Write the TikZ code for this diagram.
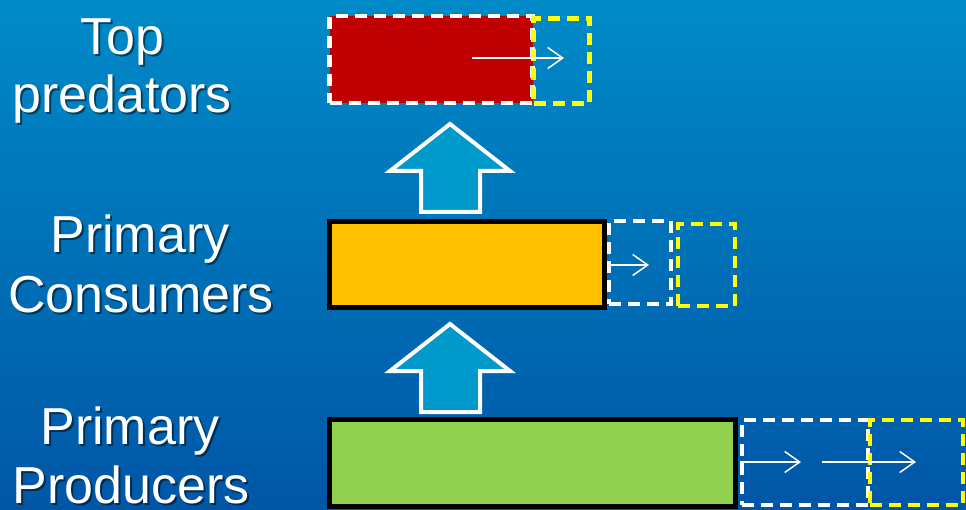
\documentclass[tikz,border=0pt]{standalone}
\usepackage{fontspec}
\setmainfont{Liberation Sans}
\usetikzlibrary{arrows.meta}
\definecolor{bgtop}{RGB}{0,138,200}
\definecolor{bgbot}{RGB}{0,86,166}
\definecolor{redbox}{RGB}{192,0,0}
\definecolor{orangebox}{RGB}{255,192,0}
\definecolor{greenbox}{RGB}{146,208,80}
\definecolor{uparr}{RGB}{0,153,204}
\definecolor{yel}{RGB}{255,255,0}
\tikzset{
  lbl/.style={text=white, font=\fontsize{52}{60}\selectfont, anchor=base, inner sep=0pt},
  shd/.style={text=black, opacity=0.5, font=\fontsize{52}{60}\selectfont, anchor=base, inner sep=0pt},
  solidbox/.style={draw=black, line width=5pt, inner sep=0pt},
  whitedash/.style={draw=white, line width=4.5pt, dash pattern=on 12pt off 7pt, inner sep=0pt},
  yeldash/.style={draw=yel, line width=4.5pt, dash pattern=on 12pt off 7pt, inner sep=0pt},
  flow/.style={draw=white, line width=1.5pt, -{Straight Barb[length=15pt,width=21pt]}},
  upshape/.style={draw=white, line width=4pt, fill=uparr, line join=miter},
}
\begin{document}
\begin{tikzpicture}[x=1pt,y=-1pt]
\useasboundingbox (0,0) rectangle (966,510);
\shade[top color=bgtop, bottom color=bgbot] (0,0) rectangle (966,510);

% labels with shadows
\foreach \nm/\xx/\yy/\tt in {la/122/55/Top, lb/122/113/predators, lc/140/253/Primary, ld/141/313/Consumers, le/130/444/Primary, lf/131/503/Producers}{
  \node[shd] (\nm s) at (\xx+2,\yy+2) {\tt};
  \node[lbl] (\nm) at (\xx,\yy) {\tt};
}

% top level
\node[whitedash, fill=redbox, minimum width=203pt, minimum height=87pt] (red) at (431,59.5) {};
\node[yeldash, minimum width=56pt, minimum height=85pt] (redy) at (561.5,61) {};
\coordinate (ra) at (472,58);
\coordinate (rb) at (564,58);
\draw[flow] (ra) -- (rb);

% middle level
\node[solidbox, fill=orangebox, minimum width=275pt, minimum height=86pt] (orange) at (467,264.5) {};
\node[whitedash, minimum width=62pt, minimum height=83pt] (orw) at (640,262.5) {};
\node[yeldash, minimum width=57pt, minimum height=82pt] (ory) at (706.5,265) {};
\coordinate (ob) at (649,265);
\draw[flow] (orange.east |- ob) -- (ob);

% bottom level
\node[solidbox, fill=greenbox, minimum width=406pt, minimum height=87pt] (green) at (532.5,463) {};
\node[whitedash, minimum width=126pt, minimum height=85pt] (grw) at (805,462.5) {};
\node[yeldash, minimum width=93pt, minimum height=85pt] (gry) at (916.5,462.5) {};
\coordinate (ga) at (740,462);
\coordinate (gb) at (801,462);
\coordinate (gc) at (822,462);
\coordinate (gd) at (916,462);
\draw[flow] (ga) -- (gb);
\draw[flow] (gc) -- (gd);

% up arrows
\draw[upshape] (450,124) -- (510,171) -- (480,171) -- (480,212) -- (421,212) -- (421,171) -- (390,171) -- cycle;
\draw[upshape] (450,324) -- (510,371) -- (480,371) -- (480,412) -- (421,412) -- (421,371) -- (390,371) -- cycle;
\end{tikzpicture}
\end{document}
